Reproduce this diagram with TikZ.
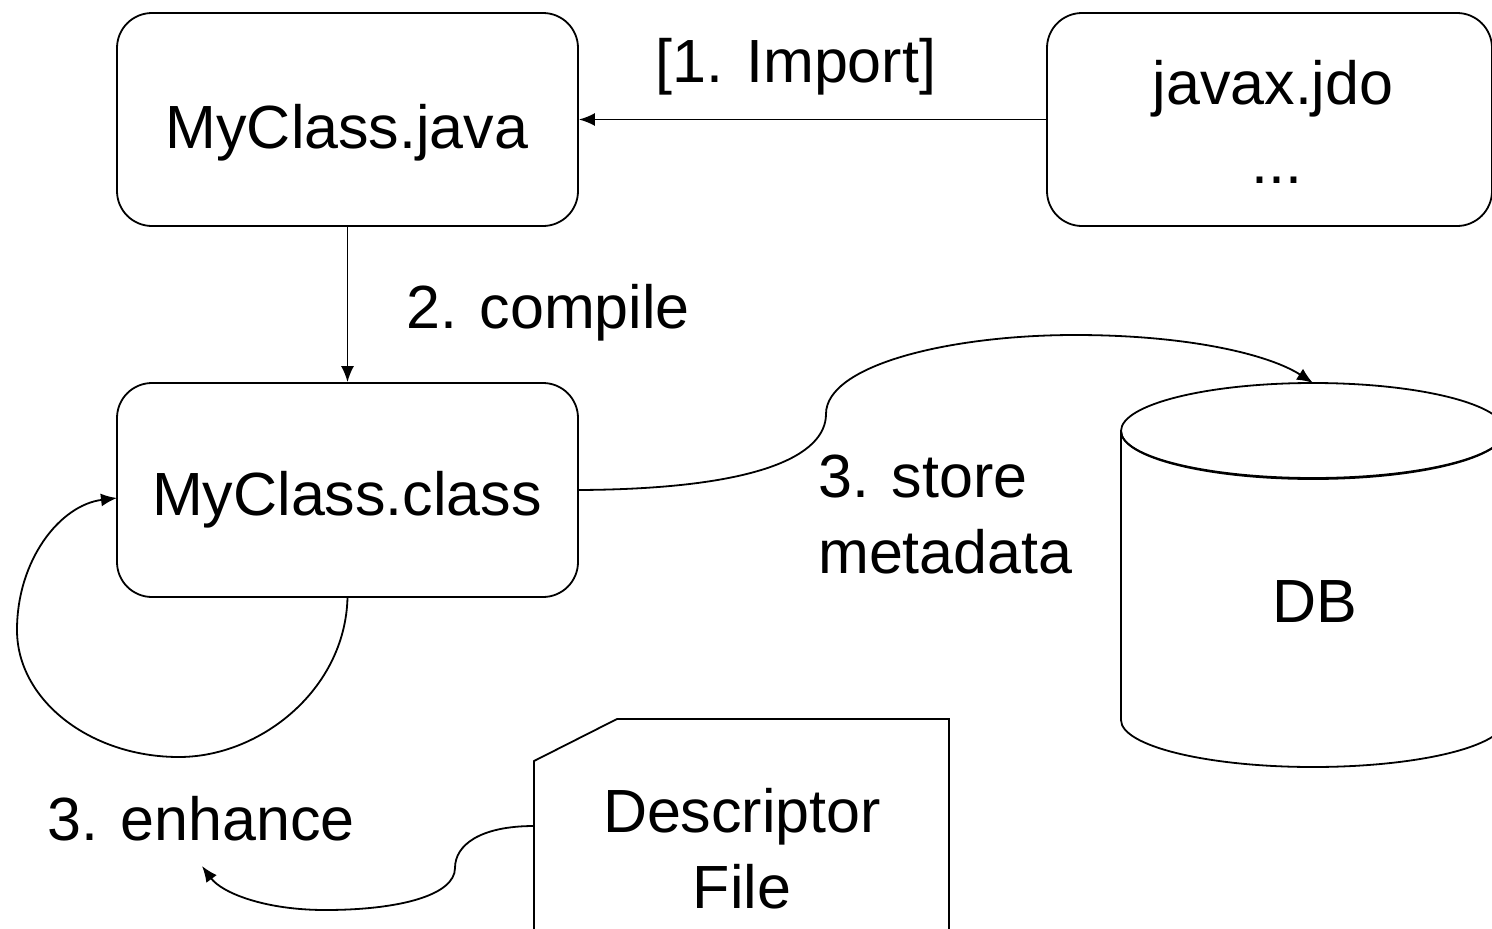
\documentclass[tikz,border=0pt]{standalone}
\usepackage{fontspec}
\setmainfont{Liberation Sans}
\usetikzlibrary{arrows.meta}
\begin{document}
\begin{tikzpicture}[x=1pt,y=-1pt,
  lw/.style={line width=1.8pt},
  box/.style={draw,lw,rounded corners=35pt,inner sep=0pt},
  txt/.style={font=\fontsize{61}{76}\selectfont,inner sep=0pt,anchor=base,align=center},
  arr/.style={lw,-{Latex[length=16pt,width=13pt]}}]
\useasboundingbox (0,0) rectangle (1492,929);
% boxes
\node[box,minimum width=461pt,minimum height=213pt] (java) at (347.5,119.5) {};
\node[box,minimum width=445pt,minimum height=213pt] (jdo) at (1269.5,119.5) {};
\node[box,minimum width=461pt,minimum height=214pt] (cls) at (347.5,490) {};
% texts
\node[txt] (javat) at (347,148) {MyClass.java};
\node[txt] (jdot) at (1273,104) {javax.jdo};
\node[txt] (dots) at (1277,183) {...};
\node[txt] (clst) at (347,515) {MyClass.class};
\node[txt] (imp) at (796,82) {[1. Import]};
\node[txt,anchor=base west] (comp) at (406,328) {2. compile};
\node[txt,anchor=base west,align=left] (store) at (818,573) {3. store\\metadata};
\node[txt,anchor=base west] (enh) at (47,840) {3. enhance};
\node[txt] (dbt) at (1315,622) {DB};
\node[txt] (desct) at (742,908) {Descriptor\\File};
% DB cylinder
\draw[lw] (1121,431) -- (1121,720) arc[start angle=180,end angle=360,x radius=192,y radius=-47]
  -- (1505,431) arc[start angle=0,end angle=-360,x radius=192,y radius=48];
\draw[lw] (1121,431) arc[start angle=180,end angle=360,x radius=192,y radius=-47];
\coordinate (dbtop) at (1313,383);
% descriptor file
\draw[lw] (534,935) -- (534,761) -- (617,719) -- (949,719) -- (949,935);
\coordinate (desc) at (534,826);
% connectors
\draw[arr] (jdo.west) -- (java.east);
\draw[arr] (java.south) -- (cls.north);
\draw[arr] (cls.east) .. controls (760,489) and (826,455) .. (826,414)
  .. controls (826,365) and (950,335) .. (1075,335)
  .. controls (1190,335) and (1270,355) .. (dbtop);
\draw[arr] (cls.south) .. controls (345,690) and (260,757) .. (179,757)
  .. controls (90,757) and (17,700) .. (17,630)
  .. controls (17,560) and (60,505) .. (117,498);
\draw[arr] (desc) .. controls (480,826) and (455,845) .. (455,868)
  .. controls (455,895) and (400,910) .. (325,910)
  .. controls (265,910) and (222,893) .. (202,866);
\end{tikzpicture}
\end{document}
